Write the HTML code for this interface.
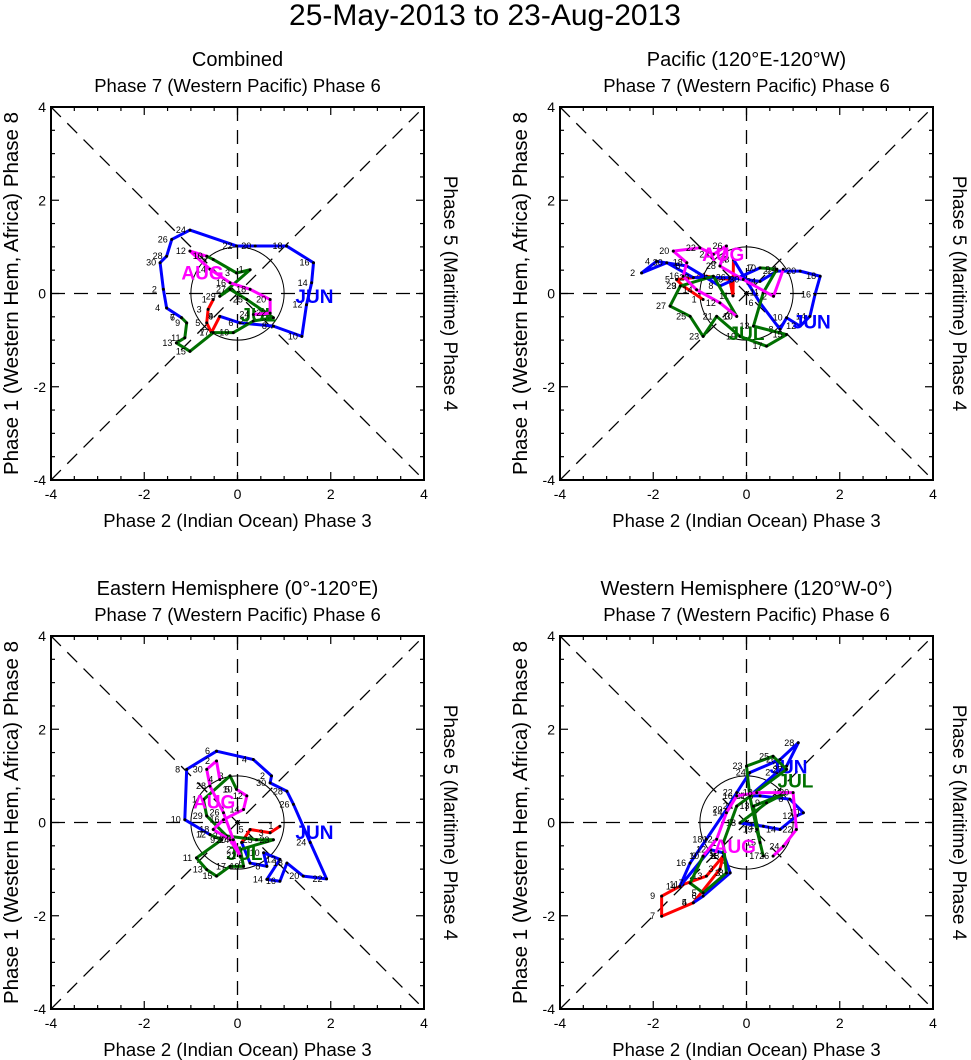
<!DOCTYPE html>
<html><head><meta charset="utf-8"><style>
body{margin:0;background:#fff;}
svg{display:block;font-family:"Liberation Sans",sans-serif;}
</style></head><body>
<svg id="chart" width="971" height="1060" viewBox="0 0 971 1060">
<text x="485" y="25" font-size="30" text-anchor="middle">25-May-2013 to 23-Aug-2013</text>
</svg>
<script>
const panelTitles = ["Combined","Pacific (120°E-120°W)","Eastern Hemisphere (0°-120°E)","Western Hemisphere (120°W-0°)"];
const tickValues = [-4,-2,0,2,4];
const monthNames = ["MAY","JUN","JUL","AUG"];
const monthColors = ["#ff0000","#0000ff","#007000","#ff00ff"];

// Series per panel: [x,y] RMM pairs
const p1May = [[-0.52,-0.13],[-0.63,-0.34],[-0.66,-0.63],[-0.56,-0.84],[-0.38,-0.49]];
const p1Jun = [[-0.38,-0.49],[0.05,-0.63],[0.77,-0.70],[1.38,-0.92],[1.48,-0.24],[1.59,0.23],[1.63,0.66],[1.05,1.02],[0.38,1.02],[-0.02,1.02],[-1.02,1.36],[-1.41,1.16],[-1.52,0.80],[-1.66,0.66],[-1.59,0.09],[-1.52,-0.31],[-1.20,-0.52]];
const p1Jul = [[-1.20,-0.52],[-1.09,-0.63],[-1.13,-0.95],[-1.31,-1.06],[-1.02,-1.24],[-0.52,-0.84],[-0.09,-0.84],[0.34,-0.59],[0.77,-0.52],[0.20,-0.13],[-0.16,0.09],[-0.38,-0.06],[0.27,0.51],[-0.02,0.44],[-0.52,0.73],[-0.66,0.80]];
const p1Aug = [[-0.66,0.80],[-1.02,0.91],[-0.59,0.52],[-0.16,0.23],[0.27,0.09],[0.70,-0.13],[0.70,-0.42],[0.34,-0.45]];

const p2May = [[-0.93,-0.13],[-1.36,0.16],[-1.50,0.30],[-0.86,0.37],[-0.36,0.30],[-0.29,-0.05],[-0.28,0.73]];
const p2Jun = [[-0.28,0.73],[0.29,-0.20],[0.72,-0.77],[0.86,-0.52],[1.15,-0.70],[1.36,-0.49],[1.47,-0.02],[1.58,0.37],[1.15,0.48],[0.65,0.48],[0.29,0.26],[-0.36,0.34],[-1.14,0.34],[-1.71,0.66],[-2.25,0.44],[-1.93,0.69],[-1.28,0.59],[-0.57,0.16],[0.29,0.55]];
const p2Jul = [[0.29,0.55],[0.65,0.52],[0.36,0.02],[0.15,-0.70],[0.86,-0.88],[0.43,-1.13],[-0.14,-0.92],[-0.64,-0.49],[-0.93,-0.92],[-1.21,-0.49],[-1.64,-0.27],[-1.42,0.16],[-0.71,0.37],[-0.21,-0.49]];
const p2Aug = [[-0.21,-0.49],[-0.57,-0.20],[-1.07,0.08],[-1.36,0.37],[-1.28,0.66],[-1.57,0.91],[-1.00,0.98],[-0.71,0.84],[-0.43,1.02],[-0.57,0.59],[-0.07,0.30],[0.58,-0.06],[0.79,0.52]];

const p3May = [[0.91,-0.08],[0.70,-0.22],[0.27,-0.15],[0.09,-0.43]];
const p3Jun = [[0.09,-0.43],[0.27,-0.87],[0.63,-0.94],[0.56,-0.65],[0.91,-0.79],[0.63,-1.22],[0.91,-1.26],[1.06,-0.87],[1.41,-1.15],[1.91,-1.21],[1.56,-0.43],[1.20,0.39],[1.06,0.67],[0.70,0.85],[0.73,1.00],[0.34,1.35],[-0.45,1.53],[-1.09,1.14],[-1.13,0.06],[-0.59,-0.26]];
const p3Jul = [[-0.59,-0.26],[-0.34,-0.37],[-0.88,-0.76],[-0.66,-1.01],[-0.45,-1.15],[-0.16,-0.94],[0.13,-0.94],[0.06,-0.58],[0.77,-0.37],[0.41,-0.37],[-0.23,-0.29],[-0.66,0.14],[-0.73,0.49],[-0.16,1.00],[-0.02,0.71]];
const p3Aug = [[-0.02,0.71],[0.20,0.57],[0.13,0.28],[-0.30,0.06],[-0.52,-0.15],[-0.16,-0.37],[0.06,-0.72],[-0.09,-0.37],[-0.30,0.21],[-0.59,0.78],[-0.66,1.14],[-0.45,1.32],[-0.38,0.92]];

const p4May = [[-0.50,-0.72],[-0.57,-1.00],[-1.14,-1.72],[-1.82,-2.01],[-1.82,-1.58],[-1.36,-1.33],[-0.86,-1.15],[-0.50,-0.72]];
const p4Jun = [[-1.14,-1.72],[-0.93,-1.58],[-0.35,-1.08],[-0.50,-0.65],[-0.78,-0.58],[-1.43,-1.37],[-1.21,-0.87],[-0.86,-0.36],[-0.43,0.28],[-0.21,0.64],[0.07,1.07],[0.72,1.35],[1.11,1.71],[0.86,1.21],[0.65,1.07],[0.07,0.57],[0.29,0.57],[0.93,0.50],[1.22,0.21],[1.07,0.14],[0.72,-0.15],[0.36,-0.08],[-0.14,-0.01]];
const p4Jul = [[-0.14,-0.01],[0.43,0.42],[0.86,0.64],[0.15,0.35],[0.29,-0.43],[0.36,-0.72],[0.22,-0.15],[0.07,0.57],[0.00,1.21],[0.57,1.42],[0.86,1.14],[-0.21,0.35],[-0.50,-0.44],[-0.43,-1.08],[-0.93,-1.51],[-1.21,-1.30],[-0.93,-0.72]];
const p4Aug = [[-0.93,-0.72],[-0.64,-0.36],[-0.43,0.21],[-0.21,0.57],[0.22,0.64],[1.00,0.64],[1.07,-0.15],[0.79,-0.51],[0.57,-0.72]];

const panelSeries = [[p1May,p1Jun,p1Jul,p1Aug],[p2May,p2Jun,p2Jul,p2Aug],[p3May,p3Jun,p3Jul,p3Aug],[p4May,p4Jun,p4Jul,p4Aug]];
const p1Labels = [null,[1.65,-0.05],[0.45,-0.45],[-0.75,0.45]];
const p2Labels = [null,[1.4,-0.6],[0.0,-0.85],[-0.5,0.85]];
const p3Labels = [null,[1.65,-0.2],[0.15,-0.65],[-0.5,0.45]];
const p4Labels = [null,[0.9,1.2],[1.05,0.9],[-0.25,-0.5]];
const panelLabels = [p1Labels,p2Labels,p3Labels,p4Labels];

const NS="http://www.w3.org/2000/svg";
const svg=document.getElementById('chart');
const origins=[[51,107],[560,107],[51,636],[560,636]];
const SIZE=373;
function mk(tag,attrs,parent){const e=document.createElementNS(NS,tag);for(const k in attrs)e.setAttribute(k,attrs[k]);(parent||svg).appendChild(e);return e;}

origins.forEach((o,pi)=>{
  const [x0,y0]=o;
  const sx=v=>x0+(v+4)/8*SIZE;
  const sy=v=>y0+(4-v)/8*SIZE;
  const g=mk('g',{});
  
  
  const cx=x0+SIZE/2, cy=y0+SIZE/2;
  let t=mk('text',{x:cx,y:y0-41,'font-size':20,'text-anchor':'middle'},g);t.textContent=panelTitles[pi];
  
  t=mk('text',{x:cx,y:y0-15,'font-size':18.5,'text-anchor':'middle'},g);t.textContent='Phase 7 (Western Pacific) Phase 6';
  
  t=mk('text',{x:cx,y:y0+SIZE+47,'font-size':18.5,'text-anchor':'middle'},g);t.textContent='Phase 2 (Indian Ocean) Phase 3';
  
  t=mk('text',{x:0,y:0,'font-size':20.5,'text-anchor':'middle',transform:`translate(${x0-33},${cy}) rotate(-90)`},g);t.textContent='Phase 1 (Western Hem, Africa) Phase 8';
  
  t=mk('text',{x:0,y:0,'font-size':19,'text-anchor':'middle',transform:`translate(${x0+SIZE+20},${cy}) rotate(90)`},g);t.textContent='Phase 5 (Maritime) Phase 4';
  
  const d='14,9';
  mk('line',{x1:sx(-4),y1:sy(4),x2:sx(4),y2:sy(-4),stroke:'#000','stroke-width':1.3,'stroke-dasharray':d},g);
  mk('line',{x1:sx(-4),y1:sy(-4),x2:sx(4),y2:sy(4),stroke:'#000','stroke-width':1.3,'stroke-dasharray':d},g);
  mk('line',{x1:sx(-4),y1:sy(0),x2:sx(4),y2:sy(0),stroke:'#000','stroke-width':1.3,'stroke-dasharray':d},g);
  mk('line',{x1:sx(0),y1:sy(4),x2:sx(0),y2:sy(-4),stroke:'#000','stroke-width':1.3,'stroke-dasharray':d},g);
  mk('circle',{cx:sx(0),cy:sy(0),r:sx(1)-sx(0),fill:'none',stroke:'#000','stroke-width':1},g);
  mk('rect',{x:x0,y:y0,width:SIZE,height:SIZE,fill:'none',stroke:'#000','stroke-width':2},g);
  for(let v=-4;v<=4;v+=0.5){
    const L=(v%2===0)?8:4;
    mk('line',{x1:sx(v),y1:y0+SIZE,x2:sx(v),y2:y0+SIZE-L,stroke:'#000','stroke-width':1.2},g);
    mk('line',{x1:sx(v),y1:y0,x2:sx(v),y2:y0+L,stroke:'#000','stroke-width':1.2},g);
    mk('line',{x1:x0,y1:sy(v),x2:x0+L,y2:sy(v),stroke:'#000','stroke-width':1.2},g);
    mk('line',{x1:x0+SIZE,y1:sy(v),x2:x0+SIZE-L,y2:sy(v),stroke:'#000','stroke-width':1.2},g);
  }
  tickValues.forEach(v=>{
    let tt=mk('text',{x:sx(v),y:y0+SIZE+19,'font-size':14,'text-anchor':'middle'},g);tt.textContent=v;
    
    tt=mk('text',{x:x0-5,y:sy(v)+5,'font-size':14,'text-anchor':'end'},g);tt.textContent=v;
    
  });
  panelSeries[pi].forEach((ser,mi)=>{
    const pts=ser.map(p=>sx(p[0])+','+sy(p[1])).join(' ');
    const pl=mk('polyline',{points:pts,fill:'none',stroke:monthColors[mi],'stroke-width':3,'stroke-linejoin':'round'},g);
    
    
    ser.forEach((p,i)=>{
      const c=mk('circle',{cx:sx(p[0]),cy:sy(p[1]),r:1.5,fill:'#000'},g);
      
      
      const n=mk('text',{x:sx(p[0])-9,y:sy(p[1])+3,'font-size':9,'text-anchor':'middle'},g);
      n.textContent=((i*2+(mi*3))%30)+1;
      
      
    });
    const lb=panelLabels[pi][mi];
    if(lb){
      const m=mk('text',{x:sx(lb[0]),y:sy(lb[1])+7,'font-size':19,'font-weight':'bold','text-anchor':'middle',fill:monthColors[mi]},g);
      m.textContent=monthNames[mi];
      
      
    }
  });
});
</script>
</body></html>
